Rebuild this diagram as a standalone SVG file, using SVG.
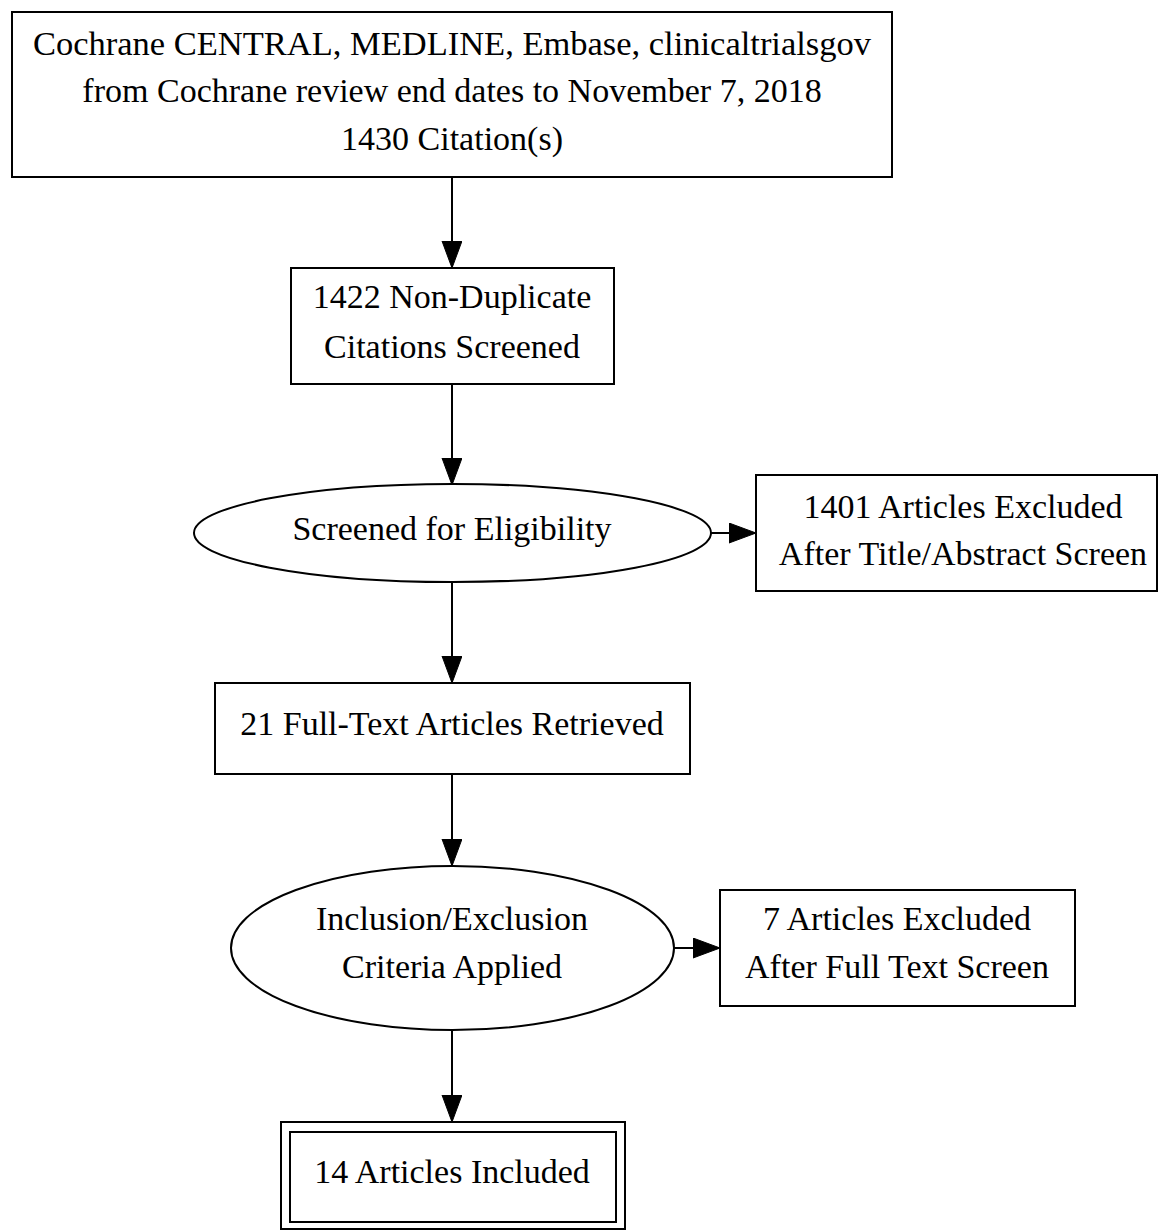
<svg xmlns="http://www.w3.org/2000/svg" width="1158" height="1230" viewBox="0 0 1158 1230">
<style>
.shape{fill:#fff;stroke:#000;stroke-width:2}
.t{font-family:"Liberation Serif","Times New Roman",serif;font-size:34px;fill:#000;text-anchor:middle}
.edge{stroke:#000;stroke-width:2;fill:none}
</style>
<defs>
<marker id="arr" markerUnits="userSpaceOnUse" markerWidth="30" markerHeight="22" refX="27" refY="10" orient="auto">
<path d="M0,0 L27,10 L0,20 Z" fill="#000" stroke="#000" stroke-width="1"/>
</marker>
</defs>
<rect width="1158" height="1230" fill="#fff"/>
<g id="connectors">
<line class="edge" x1="452" y1="177" x2="452" y2="268" marker-end="url(#arr)"/>
<line class="edge" x1="452" y1="384" x2="452" y2="485" marker-end="url(#arr)"/>
<line class="edge" x1="711" y1="533" x2="756" y2="533" marker-end="url(#arr)"/>
<line class="edge" x1="452" y1="583" x2="452" y2="683" marker-end="url(#arr)"/>
<line class="edge" x1="452" y1="774" x2="452" y2="866" marker-end="url(#arr)"/>
<line class="edge" x1="674" y1="948" x2="720" y2="948" marker-end="url(#arr)"/>
<line class="edge" x1="452" y1="1030" x2="452" y2="1122" marker-end="url(#arr)"/>
</g>
<g id="n1">
<rect class="shape" x="12" y="12" width="880" height="165"/>
<text class="t" x="452" y="55" textLength="838" lengthAdjust="spacingAndGlyphs">Cochrane CENTRAL, MEDLINE, Embase, clinicaltrialsgov</text>
<text class="t" x="452" y="102">from Cochrane review end dates to November 7, 2018</text>
<text class="t" x="452" y="150">1430 Citation(s)</text>
</g>
<g id="n2">
<rect class="shape" x="291" y="268" width="323" height="116"/>
<text class="t" x="452" y="308">1422 Non-Duplicate</text>
<text class="t" x="452" y="358">Citations Screened</text>
</g>
<g id="n3">
<ellipse class="shape" cx="452.5" cy="533" rx="258.5" ry="49"/>
<text class="t" x="452" y="540">Screened for Eligibility</text>
</g>
<g id="n4">
<rect class="shape" x="756" y="475" width="401" height="116"/>
<text class="t" x="963" y="518">1401 Articles Excluded</text>
<text class="t" x="963" y="565">After Title/Abstract Screen</text>
</g>
<g id="n5">
<rect class="shape" x="215" y="683" width="475" height="91"/>
<text class="t" x="452" y="735">21 Full-Text Articles Retrieved</text>
</g>
<g id="n6">
<ellipse class="shape" cx="452.5" cy="948" rx="221.5" ry="82"/>
<text class="t" x="452" y="930">Inclusion/Exclusion</text>
<text class="t" x="452" y="978">Criteria Applied</text>
</g>
<g id="n7">
<rect class="shape" x="720" y="890" width="355" height="116"/>
<text class="t" x="897" y="930">7 Articles Excluded</text>
<text class="t" x="897" y="978">After Full Text Screen</text>
</g>
<g id="n8">
<rect class="shape" x="281" y="1122" width="344" height="107"/>
<rect class="shape" x="290" y="1132" width="326" height="90"/>
<text class="t" x="452" y="1183">14 Articles Included</text>
</g>
</svg>
